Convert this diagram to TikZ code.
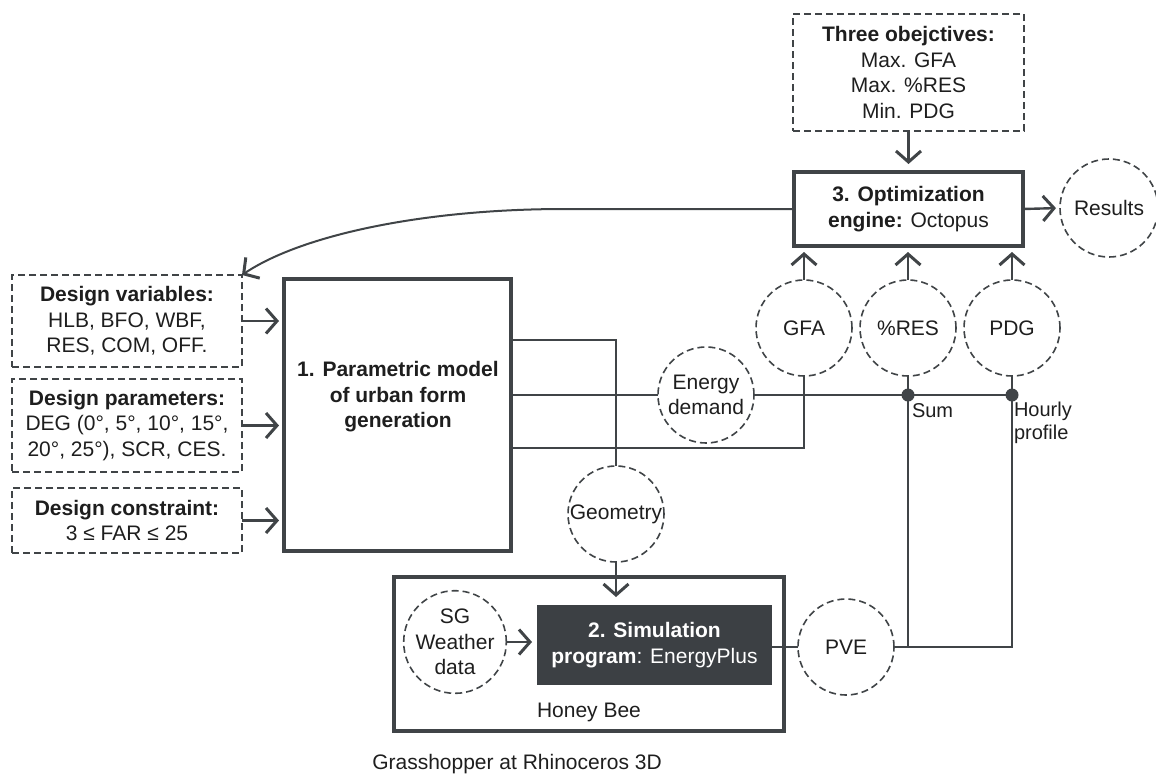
\documentclass[tikz,border=0pt]{standalone}
\usepackage{fontspec}
\setmainfont{Liberation Sans}
\usetikzlibrary{arrows.meta}
\definecolor{lc}{HTML}{404447}
\definecolor{tc}{HTML}{1E1E1E}
\definecolor{simfill}{HTML}{3C4044}
\begin{document}
\begin{tikzpicture}[x=1pt,y=-1pt,
  every node/.style={text=tc, font=\fontsize{21}{25.5}\selectfont, inner sep=0pt, outer sep=0pt},
  ln/.style={draw=lc, line width=2.2pt},
  tip/.style={-{Straight Barb[length=11pt,width=25pt,line width=3pt]}},
  arr/.style={draw=lc, line width=2.4pt, tip},
  dbox/.style={draw=lc, line width=1.6pt, dash pattern=on 7pt off 4pt, rectangle, align=center},
  dcirc/.style={draw=lc, line width=1.6pt, dash pattern=on 7pt off 4pt, circle, minimum size=96pt, align=center},
  tbox/.style={draw=lc, line width=4pt, rectangle, align=center},
  dotn/.style={circle, fill=lc, minimum size=13pt},
  small/.style={font=\fontsize{20}{23}\selectfont}
]
\useasboundingbox (0,0) rectangle (1156,777);

% left input boxes
\node[dbox, minimum width=230pt, minimum height=92pt] (dv) at (127,321)
  {\textbf{Design variables:}\\HLB, BFO, WBF,\\RES, COM, OFF.};
\node[dbox, minimum width=230pt, minimum height=93pt] (dp) at (127,425.5)
  {\textbf{Design parameters:}\\DEG (0°, 5°, 10°, 15°,\\20°, 25°), SCR, CES.};
\node[dbox, minimum width=230pt, minimum height=65pt] (dc) at (127,520.5)
  {\textbf{Design constraint:}\\3 ≤ FAR ≤ 25};

% parametric model
\node[tbox, minimum width=227pt, minimum height=272pt] (pm) at (397.5,415) {};
\node[align=center] (pmt) at (398,397) {\textbf{1. Parametric model}\\\textbf{of urban form}\\\textbf{generation}};

% objectives and optimization
\node[dbox, minimum width=231pt, minimum height=117pt] (obj) at (908.5,72.5)
  {\textbf{Three obejctives:}\\Max. GFA\\Max. \%RES\\Min. PDG};
\node[tbox, minimum width=229pt, minimum height=74pt] (opt) at (908.5,209)
  {\textbf{3. Optimization}\\\textbf{engine:} Octopus};
\node[dcirc, minimum size=98pt] (results) at (1109,208) {Results};

% output circles
\node[dcirc] (gfa) at (804,328) {GFA};
\node[dcirc] (res) at (908,328) {\%RES};
\node[dcirc] (pdg) at (1012,328) {PDG};
\node[dcirc] (ed) at (706,395) {Energy\\demand};
\node[dcirc] (geo) at (616,514) {Geometry};

% honey bee
\node[tbox, minimum width=390pt, minimum height=154pt] (hb) at (589,654) {};
\node (hbt) at (589,712) {Honey Bee};
\node[rectangle, fill=simfill, minimum width=235pt, minimum height=80pt, align=center, text=white] (sim) at (654.5,645)
  {\textbf{2. Simulation}\\\textbf{program}: EnergyPlus};
\node[dcirc] (sg) at (455,642) {SG\\Weather\\data};
\node[dcirc] (pve) at (846,647) {PVE};

\node (gh) at (517,764) {Grasshopper at Rhinoceros 3D};

% junction dots
\node[dotn] (d1) at (908,395) {};
\node[dotn] (d2) at (1012,395) {};
\node[small, anchor=base west] (sum) at (912,417) {Sum};
\node[small, anchor=north west, align=left] (hp) at (1014,402) {Hourly\\profile};

% connectors
\draw[ln] ([yshift=75pt]pm.east) -| (geo.north);
\draw[ln] (pm.east |- ed.west) -- (ed.west);
\draw[ln] (ed.east) -- (d2.center);
\draw[ln] ([yshift=-33pt]pm.east) -| (gfa.south);
\draw[ln] (res.south) -- (res.south |- pve.east);
\draw[ln] (pdg.south) |- (pve.east);
\draw[ln] (sim.east |- pve.west) -- (pve.west);

% arrows
\draw[arr, shorten >=5pt] (dv.east) -- (dv.east -| pm.west);
\draw[arr, shorten >=5pt] (dp.east) -- (dp.east -| pm.west);
\draw[arr, shorten >=5pt] (dc.east) -- (dc.east -| pm.west);
\draw[arr, shorten >=8pt] (obj.south) -- (opt.north);
\draw[arr, shorten >=4pt] (opt.east) -- (results.west);
\draw[arr, shorten >=6pt] (gfa.north) -- (gfa.north |- opt.south);
\draw[arr, shorten >=6pt] (res.north) -- (res.north |- opt.south);
\draw[arr, shorten >=6pt] (pdg.north) -- (pdg.north |- opt.south);
\draw[arr, shorten >=8pt] (geo.south) -- (geo.south |- sim.north);
\draw[arr, shorten >=5pt] (sg.east) -- (sg.east -| sim.west);
\draw[draw=lc, line width=2pt, tip]
  (opt.west) -- (565,209) .. controls (420,209) and (300,236) .. (dv.north east);
\end{tikzpicture}
\end{document}
